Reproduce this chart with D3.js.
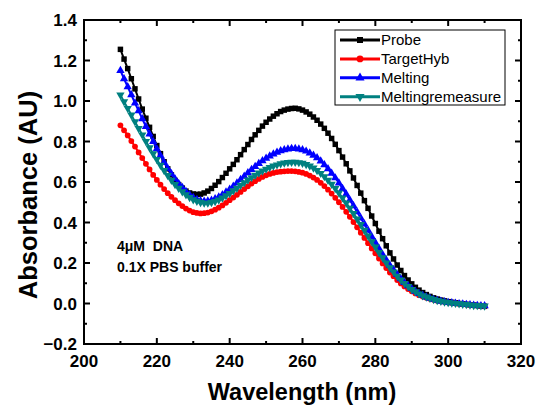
<!DOCTYPE html>
<html>
<head>
<meta charset="utf-8">
<script src="https://cdn.jsdelivr.net/npm/d3@7"></script>
<style>
  body { margin: 0; background: #fff; }
  svg { display: block; font-family: "Liberation Sans", Arial, sans-serif; }
  .tick-label { font-size: 17px; font-weight: bold; }
  .axis-title { font-weight: bold; }
  .legend-text { font-size: 15px; }
  .note { font-size: 14px; font-weight: bold; white-space: pre; }
</style>
</head>
<body>
<svg id="chart" width="537" height="406"></svg>
<script>
/* wavelength grid, 1 nm steps */
const wavelength = d3.range(210, 311);

const probe = [
  1.255, 1.207, 1.16, 1.11, 1.06, 1.01, 0.96, 0.915, 0.87, 0.825,
  0.78, 0.74, 0.70, 0.665, 0.635, 0.608, 0.587, 0.57, 0.555, 0.546,
  0.541, 0.539, 0.54, 0.546, 0.555, 0.568, 0.584, 0.602, 0.622, 0.643,
  0.665, 0.687, 0.71, 0.735, 0.76, 0.785, 0.81, 0.833, 0.855, 0.876,
  0.895, 0.911, 0.925, 0.937, 0.948, 0.955, 0.96, 0.963, 0.964, 0.961,
  0.955, 0.946, 0.935, 0.921, 0.905, 0.886, 0.865, 0.841, 0.815, 0.786,
  0.755, 0.723, 0.69, 0.655, 0.62, 0.583, 0.545, 0.508, 0.47, 0.432,
  0.395, 0.357, 0.32, 0.285, 0.25, 0.22, 0.19, 0.163, 0.138, 0.116,
  0.097, 0.08, 0.066, 0.054, 0.044, 0.035, 0.028, 0.022, 0.017, 0.013,
  0.009, 0.006, 0.003, 0.0, -0.002, -0.004, -0.006, -0.008, -0.01, -0.012,
  -0.014
];

const targetHyb = [
  0.88, 0.855, 0.83, 0.802, 0.775, 0.746, 0.718, 0.69, 0.662, 0.635,
  0.61, 0.587, 0.565, 0.545, 0.527, 0.51, 0.495, 0.481, 0.469, 0.459,
  0.451, 0.447, 0.445, 0.446, 0.449, 0.455, 0.463, 0.473, 0.484, 0.497,
  0.51, 0.523, 0.537, 0.551, 0.565, 0.579, 0.592, 0.604, 0.615, 0.625,
  0.633, 0.64, 0.645, 0.649, 0.651, 0.653, 0.654, 0.654, 0.653, 0.65,
  0.646, 0.64, 0.632, 0.622, 0.61, 0.596, 0.58, 0.562, 0.543, 0.522,
  0.5, 0.477, 0.453, 0.428, 0.402, 0.376, 0.35, 0.324, 0.298, 0.272,
  0.247, 0.222, 0.198, 0.175, 0.153, 0.135, 0.116, 0.099, 0.084, 0.071,
  0.06, 0.05, 0.041, 0.034, 0.028, 0.023, 0.018, 0.014, 0.011, 0.008,
  0.005, 0.003, 0.001, -0.001, -0.003, -0.005, -0.007, -0.009, -0.01, -0.011,
  -0.012
];

const melting = [
  1.15, 1.11, 1.07, 1.03, 0.99, 0.951, 0.912, 0.874, 0.837, 0.8,
  0.764, 0.73, 0.697, 0.667, 0.64, 0.615, 0.592, 0.572, 0.553, 0.537,
  0.523, 0.513, 0.507, 0.505, 0.506, 0.51, 0.517, 0.526, 0.537, 0.55,
  0.564, 0.579, 0.595, 0.612, 0.628, 0.645, 0.661, 0.676, 0.691, 0.705,
  0.717, 0.728, 0.738, 0.747, 0.754, 0.759, 0.763, 0.765, 0.765, 0.763,
  0.759, 0.752, 0.743, 0.732, 0.719, 0.703, 0.685, 0.665, 0.643, 0.62,
  0.595, 0.568, 0.54, 0.511, 0.482, 0.452, 0.422, 0.392, 0.361, 0.331,
  0.301, 0.271, 0.242, 0.215, 0.189, 0.166, 0.143, 0.122, 0.103, 0.087,
  0.073, 0.06, 0.049, 0.04, 0.032, 0.026, 0.02, 0.015, 0.011, 0.008,
  0.005, 0.003, 0.001, -0.001, -0.003, -0.005, -0.007, -0.009, -0.01, -0.011,
  -0.012
];

const meltingRemeasure = [
  1.03, 0.997, 0.964, 0.931, 0.898, 0.865, 0.833, 0.801, 0.77, 0.74,
  0.711, 0.683, 0.657, 0.632, 0.609, 0.588, 0.569, 0.552, 0.537, 0.524,
  0.513, 0.505, 0.499, 0.496, 0.496, 0.499, 0.504, 0.512, 0.521, 0.532,
  0.544, 0.557, 0.57, 0.584, 0.597, 0.61, 0.622, 0.634, 0.645, 0.655,
  0.664, 0.672, 0.679, 0.685, 0.69, 0.694, 0.697, 0.698, 0.698, 0.696,
  0.693, 0.687, 0.679, 0.669, 0.657, 0.643, 0.627, 0.609, 0.589, 0.568,
  0.546, 0.522, 0.497, 0.471, 0.445, 0.418, 0.39, 0.362, 0.334, 0.306,
  0.279, 0.252, 0.226, 0.201, 0.177, 0.156, 0.135, 0.116, 0.099, 0.084,
  0.07, 0.058, 0.048, 0.039, 0.032, 0.026, 0.02, 0.015, 0.011, 0.008,
  0.005, 0.003, 0.001, -0.001, -0.003, -0.005, -0.007, -0.009, -0.01, -0.011,
  -0.012
];

const seriesNames = ["Probe", "TargetHyb", "Melting", "Meltingremeasure"];
const seriesColors = ["#000000", "#ff0000", "#0000ff", "#008080"];
const seriesSymbols = ["square", "circle", "up", "down"];
const seriesValues = [probe, targetHyb, melting, meltingRemeasure];

const xTicks = [200, 220, 240, 260, 280, 300, 320];
const yTicks = [-0.2, 0.0, 0.2, 0.4, 0.6, 0.8, 1.0, 1.2, 1.4];
const notes = ["4\u03bcM  DNA", "0.1X PBS buffer"];

const M = { left: 84, right: 521, top: 20, bottom: 344 };

const svg = d3.select("#chart");

const x = d3.scaleLinear().domain([200, 320]).range([M.left, M.right]);
const y = d3.scaleLinear().domain([-0.2, 1.4]).range([M.bottom, M.top]);

/* symbol paths, "down" is the triangle turned over */
const symbolType = {
  square: d3.symbolSquare,
  circle: d3.symbolCircle,
  up: d3.symbolTriangle,
  down: d3.symbolTriangle
};
const symbolSize = { square: 30, circle: 26, up: 30, down: 30 };

function placeMark(kind, px, py) {
  return `translate(${px},${py})` + (kind === "down" ? " rotate(180)" : "");
}

/* curves */
const line = d3.line().x(d => x(d[0])).y(d => y(d[1]));

seriesValues.forEach((vals, i) => {
  const kind = seriesSymbols[i];
  const pts = wavelength.map((w, k) => [w, vals[k]]);
  const g = svg.append("g").attr("class", "series");

  g.append("path")
    .attr("d", line(pts))
    .attr("fill", "none")
    .attr("stroke", seriesColors[i])
    .attr("stroke-width", 2);

  g.selectAll("path.mark")
    .data(pts)
    .join("path")
    .attr("class", "mark")
    .attr("d", d3.symbol(symbolType[kind], symbolSize[kind])())
    .attr("transform", d => placeMark(kind, x(d[0]), y(d[1])))
    .attr("fill", seriesColors[i]);
});

/* frame with inward ticks on all four sides */
const xMinor = d3.range(200, 321, 10);
const yMinor = d3.range(-2, 15).map(v => v / 10);
const axes = svg.append("g").attr("class", "frame");

function drawTicks(vals, major, horiz) {
  vals.forEach(v => {
    const isMajor = major.some(m => Math.abs(m - v) < 1e-6);
    const len = isMajor ? 6 : 3;
    if (horiz) {
      const px = x(v);
      axes.append("line").attr("x1", px).attr("x2", px).attr("y1", M.bottom).attr("y2", M.bottom - len);
      axes.append("line").attr("x1", px).attr("x2", px).attr("y1", M.top).attr("y2", M.top + len);
    } else {
      const py = y(v);
      axes.append("line").attr("y1", py).attr("y2", py).attr("x1", M.left).attr("x2", M.left + len);
      axes.append("line").attr("y1", py).attr("y2", py).attr("x1", M.right).attr("x2", M.right - len);
    }
  });
}
drawTicks(xMinor, xTicks, true);
drawTicks(yMinor, yTicks, false);

axes.append("rect")
  .attr("x", M.left).attr("y", M.top)
  .attr("width", M.right - M.left).attr("height", M.bottom - M.top)
  .attr("fill", "none");

axes.selectAll("line, rect").attr("stroke", "#000").attr("stroke-width", 2);

/* tick labels */
svg.append("g").selectAll("text")
  .data(xTicks)
  .join("text")
  .attr("class", "tick-label")
  .attr("x", d => x(d))
  .attr("y", 367)
  .attr("text-anchor", "middle")
  .text(d => d3.format("d")(d));

svg.append("g").selectAll("text")
  .data(yTicks)
  .join("text")
  .attr("class", "tick-label")
  .attr("x", 77)
  .attr("y", d => y(d) + 6)
  .attr("text-anchor", "end")
  .text(d => d3.format(".1f")(d));

/* axis titles */
svg.append("text")
  .attr("class", "axis-title")
  .attr("x", 302)
  .attr("y", 400)
  .attr("text-anchor", "middle")
  .style("font-size", "23.5px")
  .text("Wavelength (nm)");

svg.append("text")
  .attr("class", "axis-title")
  .attr("transform", "translate(37,195) rotate(-90)")
  .attr("text-anchor", "middle")
  .style("font-size", "25.5px")
  .text("Absorbance (AU)");

/* legend */
const legend = svg.append("g").attr("transform", "translate(335,30)");
legend.append("rect")
  .attr("width", 170).attr("height", 75)
  .attr("fill", "#fff").attr("stroke", "#000").attr("stroke-width", 1);

seriesNames.forEach((name, i) => {
  const kind = seriesSymbols[i];
  const ly = 10 + i * 18.9;
  legend.append("line")
    .attr("x1", 5).attr("x2", 45).attr("y1", ly).attr("y2", ly)
    .attr("stroke", seriesColors[i]).attr("stroke-width", 3);
  legend.append("path")
    .attr("d", d3.symbol(symbolType[kind], 36)())
    .attr("transform", placeMark(kind, 25, ly))
    .attr("fill", seriesColors[i]);
  legend.append("text")
    .attr("class", "legend-text")
    .attr("x", 46).attr("y", ly + 5)
    .text(name);
});

/* annotation */
svg.append("g").selectAll("text")
  .data(notes)
  .join("text")
  .attr("class", "note")
  .attr("x", 117)
  .attr("y", (d, i) => 251 + i * 21)
  .text(d => d);
</script>
</body>
</html>
